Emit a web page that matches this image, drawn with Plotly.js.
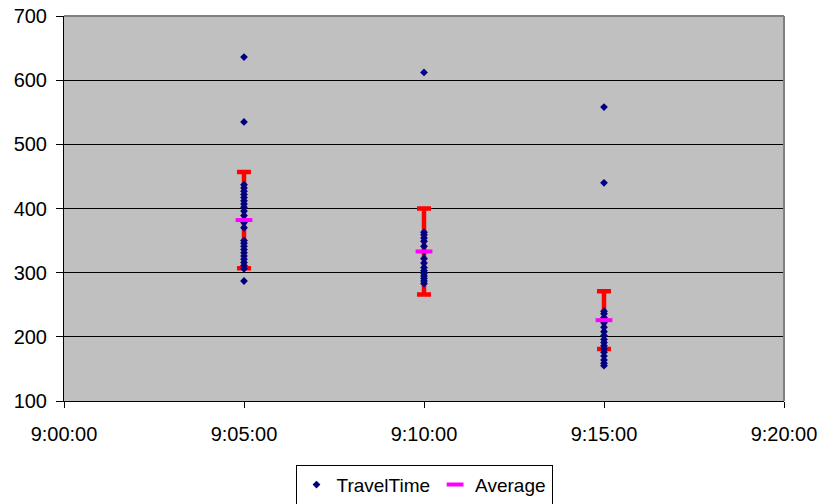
<!DOCTYPE html>
<html>
<head>
<meta charset="utf-8">
<script src="https://cdn.plot.ly/plotly-3.0.1.min.js"></script>
<style>html,body{margin:0;padding:0;background:#fff;}#chart{width:822px;height:504px;}</style>
</head>
<body>
<div id="chart"></div>
<script>
// Data
const times = ["2000-01-01 09:05:00", "2000-01-01 09:10:00", "2000-01-01 09:15:00"];
const travel905 = [636, 535, 437, 432, 427, 422, 417, 412, 407, 402, 396, 389, 378, 370, 350, 346, 341, 336, 331, 326, 321, 316, 311, 306, 287];
const travel910 = [612, 363, 359, 354, 349, 341, 333, 322, 315, 308, 303, 299, 295, 291, 287, 283];
const travel915 = [558, 440, 240, 236, 230, 222, 215, 208, 202, 196, 191, 186, 181, 176, 170, 164, 159, 155];
const averages = [382, 333, 226];
const errors = [75, 67, 45];
const xTicks = ["2000-01-01 09:00:00", "2000-01-01 09:05:00", "2000-01-01 09:10:00", "2000-01-01 09:15:00", "2000-01-01 09:20:00"];
const xTickLabels = ["9:00:00", "9:05:00", "9:10:00", "9:15:00", "9:20:00"];
const yTicks = [100, 200, 300, 400, 500, 600, 700];

const groups = [travel905, travel910, travel915];
const tx = [], ty = [];
groups.forEach((g, i) => g.forEach(v => { tx.push(times[i]); ty.push(v); }));

const font = "Liberation Sans, Arial, sans-serif";

const errTrace = {
  x: times, y: averages, type: "scatter", mode: "markers",
  marker: {size: 1, color: "rgba(0,0,0,0)"},
  error_y: {type: "data", array: errors, visible: true, color: "#FF0000", thickness: 4.5, width: 7},
  showlegend: false, hoverinfo: "skip"
};
const travelTrace = {
  x: tx, y: ty, type: "scatter", mode: "markers", name: "TravelTime",
  marker: {symbol: "diamond", size: 6, color: "#000080"}
};
const avgTrace = {
  x: times, y: averages, type: "scatter", mode: "markers", name: "Average",
  marker: {symbol: "line-ew", size: 12, color: "#FF00FF", line: {color: "#FF00FF", width: 4}}
};

const layout = {
  width: 822, height: 504,
  margin: {l: 64, r: 38, t: 16, b: 103},
  paper_bgcolor: "#FFFFFF",
  plot_bgcolor: "#C0C0C0",
  font: {family: font, size: 20, color: "#000"},
  showlegend: true,
  legend: {
    orientation: "h", x: 0.5, xanchor: "center", xref: "paper",
    yref: "container", y: 0.078, yanchor: "top",
    bordercolor: "#000", borderwidth: 1, bgcolor: "#FFFFFF",
    font: {family: font, size: 19, color: "#000"}, itemwidth: 30
  },
  xaxis: {
    type: "date",
    range: ["2000-01-01 09:00:00", "2000-01-01 09:20:00"],
    tickmode: "array", tickvals: xTicks, ticktext: xTickLabels,
    showgrid: false, zeroline: false,
    showline: true, linecolor: "#000", linewidth: 1,
    ticks: "outside", ticklen: 6, tickcolor: "#000", ticklabelstandoff: 9,
    tickfont: {family: font, size: 20, color: "#000"}
  },
  yaxis: {
    range: [100, 700],
    tickmode: "array", tickvals: yTicks,
    showgrid: true, gridcolor: "#000", gridwidth: 1, zeroline: false,
    showline: true, linecolor: "#000", linewidth: 1,
    ticks: "outside", ticklen: 7, tickcolor: "#000", ticklabelstandoff: 5,
    tickfont: {family: font, size: 20, color: "#000"}
  },
  shapes: [
    {type: "line", xref: "paper", yref: "paper", x0: 0, x1: 1, y0: 1, y1: 1, line: {color: "#808080", width: 2}, layer: "above"},
    {type: "line", xref: "paper", yref: "paper", x0: 1, x1: 1, y0: 0, y1: 1, line: {color: "#808080", width: 2}, layer: "above"}
  ],
  hovermode: false
};

Plotly.newPlot("chart", [errTrace, travelTrace, avgTrace], layout, {displayModeBar: false, staticPlot: true});
</script>
</body>
</html>
